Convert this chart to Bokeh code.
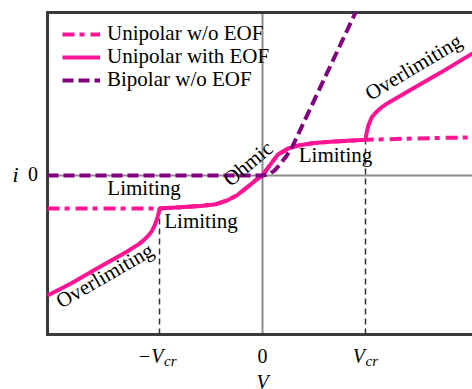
from bokeh.plotting import figure
from bokeh.models import Range1d, Label, Legend, LegendItem
from bokeh.embed import file_html
from bokeh.resources import INLINE

# ---------------- data (V in units of V_cr, i in arbitrary units) -------------
V_cr = 1.0
i_lim_neg = -0.94
i_lim_pos = 1.02

# Unipolar with EOF (solid)
eof_V = [-2.087, -1.864, -1.573, -1.33, -1.2, -1.15, -1.11, -1.075, -1.05, -1.03,
         -1.015, -1.005, -1.0, -0.8, -0.6, -0.45, -0.35, -0.25, -0.15, -0.07, 0.0,
         0.07, 0.15, 0.25, 0.35, 0.5, 0.7, 1.0, 1.005, 1.015, 1.03, 1.06, 1.1, 1.16,
         1.24, 1.41, 1.73, 2.039]
eof_i = [-3.43, -3.09, -2.60, -2.20, -1.96, -1.84, -1.72, -1.59, -1.45, -1.29,
         -1.15, -1.02, -0.94, -0.91, -0.87, -0.82, -0.72, -0.57, -0.34, -0.14, 0.0,
         0.29, 0.60, 0.77, 0.86, 0.93, 0.97, 1.02, 1.12, 1.28, 1.45, 1.66, 1.80, 1.96,
         2.11, 2.40, 2.94, 3.49]

# Unipolar w/o EOF (dash-dot)
noeof_V = [-2.087, -1.0, -0.8, -0.6, -0.45, -0.35, -0.25, -0.15, -0.07, 0.0, 0.07,
           0.15, 0.25, 0.35, 0.5, 0.7, 1.0, 1.5, 2.039]
noeof_i = [-0.94, -0.94, -0.91, -0.87, -0.82, -0.72, -0.57, -0.34, -0.14, 0.0, 0.29,
           0.60, 0.77, 0.86, 0.93, 0.97, 1.02, 1.06, 1.09]

# Bipolar w/o EOF (dashed)
bip_V = [-2.087, -0.12, 0.0, 0.058, 0.117, 0.175, 0.233, 0.291, 0.903]
bip_i = [0.0, 0.0, 0.0, 0.03, 0.14, 0.34, 0.56, 0.83, 4.657]

series_labels = ["Unipolar w/o EOF", "Unipolar with EOF", "Bipolar w/o EOF"]
tick_values = [-V_cr, 0.0, V_cr]
tick_main = ["\u2212V", "0", "V"]
tick_sub = ["cr", "", "cr"]

PINK = "#ff1493"
PURPLE = "#800080"
FRAME = "#3a3a3a"
ZERO = "#8c8c8c"
SERIF = "Liberation Serif"

# axes box (data units) and the full canvas range
box_x0, box_x1 = -2.087, 2.039
box_y0, box_y1 = -4.543, 4.657
canvas_x = (-2.5437, 2.0388)
canvas_y = (-6.114, 5.0)

p = figure(width=472, height=389, x_range=Range1d(*canvas_x), y_range=Range1d(*canvas_y),
           output_backend="svg", toolbar_location=None,
           x_axis_type=None, y_axis_type=None,
           min_border=0, min_border_left=0, min_border_right=0,
           min_border_top=0, min_border_bottom=0)
p.outline_line_color = None
p.background_fill_color = "white"
p.border_fill_color = "white"

# zero lines
p.segment(x0=[box_x0, 0.0], y0=[0.0, box_y0], x1=[box_x1 + 0.01, 0.0], y1=[0.0, box_y1],
          line_color=ZERO, line_width=2)

# frame (left, top, bottom; open on the right)
p.segment(x0=[box_x0, box_x0, box_x0], y0=[box_y0, box_y1, box_y0],
          x1=[box_x0, box_x1 + 0.01, box_x1 + 0.01], y1=[box_y1, box_y1, box_y0],
          line_color=FRAME, line_width=3, line_cap="square")

# critical-voltage guides
p.segment(x0=[-V_cr, V_cr], y0=[box_y0, box_y0], x1=[-V_cr, V_cr], y1=[i_lim_neg, i_lim_pos],
          line_color="#333333", line_width=1.5, line_dash="6 4")

r1 = p.line(noeof_V, noeof_i, line_color=PINK, line_width=4, line_dash="12 5 5 6")
r2 = p.line(eof_V, eof_i, line_color=PINK, line_width=4, line_join="round")
r3 = p.line(bip_V, bip_i, line_color=PURPLE, line_width=4, line_dash="11 5")

# one legend row per entry, stacked 23 px apart
for lbl, rend, ypos in zip(series_labels, [r1, r2, r3], [343, 320, 297]):
    lg = Legend(items=[LegendItem(label=lbl, renderers=[rend])],
                location=(62, ypos), padding=0, margin=0, spacing=0,
                glyph_width=38, glyph_height=20, label_height=20, label_standoff=7,
                label_text_font=SERIF, label_text_font_size="21px",
                label_text_color="black",
                border_line_color=None, background_fill_alpha=0)
    p.add_layout(lg)


def lab(x, y, text, size="21px", align="center", baseline="alphabetic", angle=0.0,
        style="normal"):
    p.add_layout(Label(x=x, y=y, text=text, text_font=SERIF, text_font_size=size,
                       text_align=align, text_baseline=baseline, angle=angle,
                       text_font_style=style, text_color="black"))


# region annotations
lab(-1.150, -0.37, "Limiting")
lab(-0.597, -1.29, "Limiting")
lab(0.709, 0.60, "Limiting")
lab(-0.14, 0.34, "Ohmic", baseline="middle", angle=0.698)
lab(1.466, 3.10, "Overlimiting", baseline="middle", angle=0.541)
lab(-1.532, -2.86, "Overlimiting", baseline="middle", angle=0.524)

# tick labels
for v, m, s in zip(tick_values, tick_main, tick_sub):
    if s:
        edge = v + (0.039 if v < 0 else -0.005)
        lab(edge, -5.17, m, size="20px", align="right", style="italic")
        lab(edge + 0.005, -5.31, s, size="15px", align="left", style="italic")
    else:
        lab(v, -5.17, m, size="20px", align="center")

# axis labels
lab(0.0, -5.91, "V", size="20px", align="center", style="italic")
lab(-2.398, 0.03, "i", size="22px", align="center", style="italic")
lab(-2.228, 0.03, "0", size="20px", align="center")

open("out.html", "w").write(file_html(p, INLINE))
